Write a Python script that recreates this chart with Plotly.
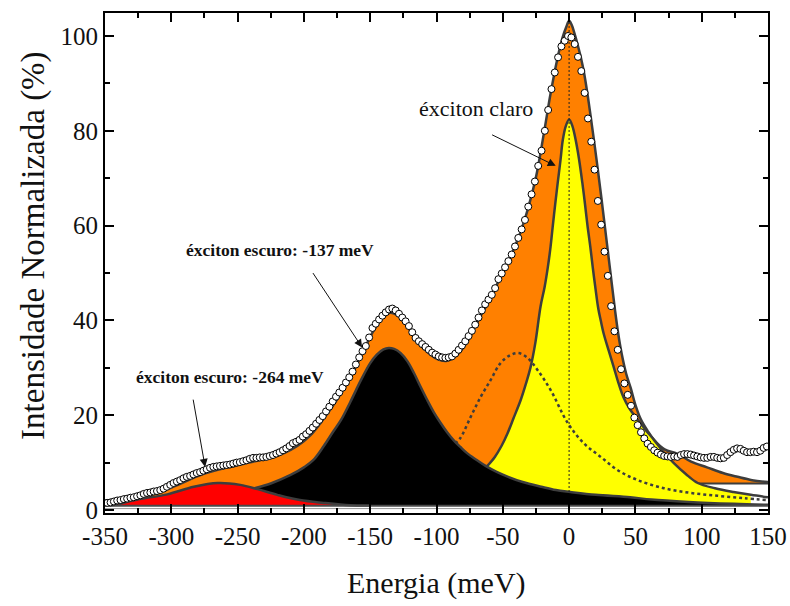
import plotly.graph_objects as go

# ---------------- data ----------------
DATA_E = [
    -348.3, -345.8, -343.3, -340.8, -338.3, -335.8, -333.3, -330.8, -328.3, -325.8,
    -323.3, -320.8, -318.3, -315.8, -313.3, -310.8, -308.3, -305.8, -303.3, -300.8,
    -298.3, -295.8, -293.3, -290.8, -288.3, -285.8, -283.3, -280.8, -278.3, -275.8,
    -273.3, -270.8, -268.3, -265.8, -263.3, -260.8, -258.3, -255.8, -253.3, -250.8,
    -248.3, -245.8, -243.3, -240.8, -238.3, -235.8, -233.3, -230.8, -228.3, -225.8,
    -223.3, -220.8, -218.3, -215.8, -213.3, -210.8, -208.3, -205.8, -203.3, -200.8,
    -198.3, -195.8, -193.3, -190.8, -188.3, -185.8, -183.3, -180.8, -178.3, -175.8,
    -173.3, -170.8, -168.3, -165.8, -163.3, -160.8, -158.3, -155.8, -153.3, -150.8,
    -148.3, -145.8, -143.3, -140.8, -138.3, -135.8, -133.3, -130.8, -128.3, -125.8,
    -123.3, -120.8, -118.3, -115.8, -113.3, -110.8, -108.3, -105.8, -103.3, -100.8,
    -98.3, -95.8, -93.3, -90.8, -88.3, -85.8, -83.3, -80.8, -78.3, -75.8,
    -73.3, -70.8, -68.3, -65.8, -63.3, -60.8, -58.3, -55.8, -53.3, -50.8,
    -48.3, -45.8, -43.3, -40.8, -38.3, -35.8, -33.3, -30.8, -28.3, -25.8,
    -23.3, -20.8, -18.3, -15.8, -13.3, -10.8, -8.3, -5.8, -3.3, -0.8,
    1.7, 4.2, 6.7, 9.2, 11.7, 14.2, 16.7, 19.2, 21.7, 24.2,
    26.7, 29.2, 31.7, 34.2, 36.7, 39.2, 41.7, 44.2, 46.7, 49.2,
    51.7, 54.2, 56.7, 59.2, 61.7, 64.2, 66.7, 69.2, 71.7, 74.2,
    76.7, 79.2, 81.7, 84.2, 86.7, 89.2, 91.7, 94.2, 96.7, 99.2,
    101.7, 104.2, 106.7, 109.2, 111.7, 114.2, 116.7, 119.2, 121.7, 124.2,
    126.7, 129.2, 131.7, 134.2, 136.7, 139.2, 141.7, 144.2, 146.7, 149.2,
]
DATA_I = [
    1.5, 1.6, 1.8, 2.0, 2.1, 2.3, 2.4, 2.6, 2.7, 2.9,
    3.1, 3.4, 3.6, 3.7, 3.9, 4.0, 4.2, 4.5, 4.9, 5.3,
    5.7, 6.0, 6.3, 6.7, 7.0, 7.2, 7.5, 7.8, 8.0, 8.3,
    8.6, 8.9, 9.1, 9.2, 9.3, 9.4, 9.5, 9.6, 9.8, 10.0,
    10.1, 10.3, 10.5, 10.8, 11.0, 11.0, 11.1, 11.1, 11.2, 11.4,
    11.6, 11.9, 12.2, 12.6, 13.0, 13.5, 14.1, 14.4, 14.8, 15.5,
    16.0, 16.7, 17.4, 18.2, 19.0, 19.8, 20.8, 21.8, 22.9, 23.9,
    24.8, 25.8, 26.9, 28.0, 29.2, 30.7, 32.2, 33.5, 34.6, 36.4,
    38.4, 39.3, 40.2, 41.0, 41.7, 42.3, 42.5, 42.1, 41.4, 40.6,
    39.8, 38.8, 37.5, 36.3, 35.6, 35.0, 34.4, 33.8, 33.2, 32.8,
    32.4, 32.2, 32.1, 32.2, 32.4, 33.0, 33.8, 34.7, 35.6, 36.7,
    37.8, 39.1, 40.6, 42.1, 43.4, 44.4, 45.4, 46.8, 48.7, 49.9,
    51.2, 52.5, 53.9, 55.6, 57.4, 59.2, 61.2, 64.0, 66.6, 69.3,
    72.6, 75.8, 80.0, 84.4, 88.8, 92.3, 95.5, 97.8, 99.0, 100.0,
    99.7, 98.3, 95.6, 92.6, 88.0, 82.6, 77.7, 71.8, 65.2, 60.2,
    54.5, 49.4, 43.0, 37.7, 33.8, 29.7, 26.7, 24.3, 22.0, 19.5,
    17.9, 16.4, 15.1, 14.0, 13.3, 12.6, 12.1, 11.7, 11.4, 11.3,
    11.2, 11.3, 11.2, 11.6, 11.8, 11.8, 11.7, 11.5, 11.3, 11.1,
    11.0, 11.0, 11.2, 11.2, 11.0, 10.9, 11.0, 11.6, 12.2, 12.7,
    13.0, 12.9, 12.5, 12.2, 12.2, 12.3, 12.2, 12.5, 13.1, 13.4,
]

# total fit (orange envelope)
FIT_E = [-350, -335, -320, -305, -295, -285, -275, -265, -255, -245, -235, -225, -215,
         -205, -195, -185, -175, -165, -155, -148, -141, -135, -129, -122, -115, -107,
         -99, -92, -85, -77, -69, -61, -53, -45, -38, -31, -25, -19, -14, -9, -5, -2,
         0, 2, 4, 6.3, 9, 11.3, 14, 16.3, 19, 21.8, 24.5, 27.1, 31, 34.7, 37, 39.7,
         43, 46.5, 50, 54, 59, 64, 72, 82, 92, 104, 116, 127, 138, 150]
FIT_I = [2.0, 2.5, 3.1, 4.2, 5.3, 6.6, 7.7, 8.5, 9.1, 9.8, 10.4, 11.0, 12.0,
         13.5, 15.8, 19.3, 23.3, 28.0, 33.6, 37.6, 40.4, 41.6, 41.0, 38.8, 35.6, 33.4,
         31.8, 31.5, 32.6, 35.4, 39.8, 43.8, 48.4, 53.0, 57.6, 63.6, 70.2, 79.5, 87.8, 95.0, 99.6, 102.0,
         103.2, 102.3, 100.6, 98.3, 95.3, 92.2, 87.5, 83.0, 77.5, 71.5, 65.5, 59.5, 50.5, 42.0, 37.3, 32.9,
         28.8, 25.7, 22.2, 19.2, 16.8, 14.8, 12.8, 11.8, 10.2, 9.0, 7.8, 7.0, 6.3, 5.9]

# dark exciton at -137 meV (black)
D137_E = [-350, -320, -290, -260, -240, -225, -210, -200, -193, -185, -178, -172, -165,
          -157, -150, -145, -140, -136, -132, -127, -122, -117, -112, -107, -102, -97,
          -92, -87, -82, -77, -70, -63, -55, -46, -35, -21, -10, 1, 20, 46, 62, 90, 124, 150]
D137_I = [1.0, 1.3, 1.8, 3.0, 4.4, 5.6, 7.4, 9.0, 10.5, 13.5, 16.5, 19.0, 22.8,
          27.4, 31.0, 32.8, 33.9, 34.2, 34.0, 33.1, 31.4, 28.9, 26.0, 23.2, 20.6, 18.4,
          16.4, 14.7, 13.3, 12.0, 10.6, 9.3, 8.1, 7.0, 5.9, 4.9, 4.2, 3.8, 3.2, 2.7, 2.2, 1.7, 1.3, 1.1]

# dark exciton at -264 meV (red)
D264_E = [-340, -324, -303, -283, -265, -248, -235, -220, -203, -185, -165, -150]
D264_I = [1.2, 2.3, 3.3, 4.9, 5.7, 5.3, 4.4, 3.2, 2.1, 1.5, 1.0, 0.95]

# bright exciton (yellow)
BRIGHT_E = [-62, -56, -51, -46.4, -42, -36.5, -32.5, -29, -25.5, -21.5, -18.5, -16, -14,
            -12.4, -10.5, -8.6, -6.5, -4.8, -2.5, 0, 2.5, 5, 7.5, 10, 12, 14, 16, 17.8,
            20, 22, 24, 26, 30, 33.6, 37, 41, 46, 52, 58, 64, 71, 79, 88, 97, 110, 124, 137, 150]
BRIGHT_I = [9.2, 11.2, 13.5, 16.2, 19.3, 23.2, 26.7, 30.2, 35.2, 43.0, 47.0, 51.3, 55.5,
            59.7, 64.5, 69.0, 73.8, 78.0, 81.0, 82.4, 81.0, 78.0, 74.0, 69.0, 64.5, 59.7, 55.5, 51.3,
            46.5, 42.5, 39.8, 37.3, 33.5, 30.2, 27.0, 23.8, 21.2, 19.0, 16.8, 14.8, 12.3, 9.9, 7.6, 5.7, 4.6, 3.8, 3.2, 2.7]

# dotted component
TRION_E = [-86, -82, -74.3, -66.8, -59.2, -51.7, -44.2, -38, -31.4, -23.7, -13.9, -1.1,
           11, 23.9, 36.7, 51.8, 71.5, 91.8, 112, 132, 150]
TRION_I = [14.0, 15.2, 19.6, 23.8, 27.4, 31.0, 32.7, 33.1, 32.1, 29.5, 25.3, 18.4,
           14.1, 11.2, 8.4, 6.3, 4.6, 3.6, 3.0, 2.5, 2.1]

# picture details
BASE = 0.9              # level the filled peaks rest on
ORANGE_CUT_E = 97       # orange envelope is cut off here on the right
ORANGE_CUT_I = 5.6
YELLOW_FILL_END = 137
PEAK_LINE_E = 0
PEAK_LINE_I = [3.8, 103.2]
BASE2_I = 0.3
BASE2_END = 125

X_TICKS = [-350, -300, -250, -200, -150, -100, -50, 0, 50, 100, 150]
X_TICK_TEXT = ["-350", "-300", "-250", "-200", "-150", "-100", "-50", "0", "50", "100", "150"]
Y_TICKS = [0, 20, 40, 60, 80, 100]
Y_TICK_TEXT = ["0", "20", "40", "60", "80", "100"]

X_TITLE = "Energia (meV)"
Y_TITLE = "Intensidade Normalizada (%)"
LABEL_BRIGHT = "éxciton claro"
LABEL_137 = "<b>éxciton escuro: -137 meV</b>"
LABEL_264 = "<b>éxciton escuro: -264 meV</b>"

# ---------------- figure ----------------
FONT = "Liberation Serif"
EDGE = "#3d3d3d"
fig = go.Figure()


def base_trace(x0, x1, ys=None, xs=None):
    xs = xs if xs is not None else [x0, x1]
    ys = ys if ys is not None else [BASE, BASE]
    return go.Scatter(x=xs, y=ys, mode="lines", line=dict(width=0),
                      hoverinfo="skip", showlegend=False)


# orange envelope
fig.add_trace(base_trace(None, None,
                         xs=[FIT_E[0], ORANGE_CUT_E, ORANGE_CUT_E, FIT_E[-1]],
                         ys=[BASE, BASE, ORANGE_CUT_I, ORANGE_CUT_I]))
fig.add_trace(go.Scatter(x=FIT_E, y=FIT_I, mode="lines", fill="tonexty",
                         fillcolor="#FF8000",
                         line=dict(color=EDGE, width=2.5, shape="spline", smoothing=1),
                         showlegend=False))
fig.add_trace(go.Scatter(x=[ORANGE_CUT_E, FIT_E[-1]], y=[ORANGE_CUT_I, ORANGE_CUT_I],
                         mode="lines", line=dict(color=EDGE, width=2), showlegend=False))

# yellow bright exciton
yf_e = [e for e in BRIGHT_E if e <= YELLOW_FILL_END]
yf_i = BRIGHT_I[:len(yf_e)]
fig.add_trace(base_trace(yf_e[0], yf_e[-1]))
fig.add_trace(go.Scatter(x=yf_e, y=yf_i, mode="lines", fill="tonexty",
                         fillcolor="#FFFF00",
                         line=dict(width=0, shape="spline", smoothing=1),
                         showlegend=False))
fig.add_trace(go.Scatter(x=BRIGHT_E, y=BRIGHT_I, mode="lines",
                         line=dict(color=EDGE, width=2.5, shape="spline", smoothing=1),
                         showlegend=False))

# dotted component
fig.add_trace(go.Scatter(x=TRION_E, y=TRION_I, mode="lines",
                         line=dict(color=EDGE, width=2.5, dash="dot", shape="spline", smoothing=1),
                         showlegend=False))

# black dark exciton
fig.add_trace(base_trace(D137_E[0], D137_E[-1]))
fig.add_trace(go.Scatter(x=D137_E, y=D137_I, mode="lines", fill="tonexty",
                         fillcolor="#000000",
                         line=dict(color=EDGE, width=2.5, shape="spline", smoothing=1),
                         showlegend=False))

# red dark exciton
fig.add_trace(base_trace(D264_E[0], D264_E[-1]))
fig.add_trace(go.Scatter(x=D264_E, y=D264_I, mode="lines", fill="tonexty",
                         fillcolor="#FF0000",
                         line=dict(color=EDGE, width=2.5, shape="spline", smoothing=1),
                         showlegend=False))

# baselines
fig.add_trace(go.Scatter(x=[X_TICKS[0], X_TICKS[-1]], y=[BASE, BASE], mode="lines",
                         line=dict(color="#4a4a4a", width=2), showlegend=False))
fig.add_trace(go.Scatter(x=[X_TICKS[0], BASE2_END], y=[BASE2_I, BASE2_I], mode="lines",
                         line=dict(color="#9a9a9a", width=1), showlegend=False))

# vertical dotted line at the bright exciton
fig.add_trace(go.Scatter(x=[PEAK_LINE_E, PEAK_LINE_E], y=PEAK_LINE_I, mode="lines",
                         line=dict(color="#222222", width=1, dash="2px,2px"), showlegend=False))

# measured data
fig.add_trace(go.Scatter(x=DATA_E, y=DATA_I, mode="markers",
                         marker=dict(size=7, color="white", line=dict(color="black", width=1)),
                         showlegend=False))

# ---------------- annotations ----------------
ann = []
ann.append(dict(x=-70.5, y=84.8, xref="x", yref="y", text=LABEL_BRIGHT, showarrow=False,
                font=dict(family=FONT, size=22, color="#111")))
ann.append(dict(x=-218.2, y=54.9, xref="x", yref="y", text=LABEL_137, showarrow=False,
                font=dict(family=FONT, size=17.5, color="#111")))
ann.append(dict(x=-255.6, y=28.1, xref="x", yref="y", text=LABEL_264, showarrow=False,
                font=dict(family=FONT, size=17.5, color="#111")))
ARROWS = [((-10.1, 72.6), (-59.2, 79.3)),
          ((-156.1, 34.3), (-193.9, 50.3)),
          ((-274.5, 9.1), (-283.7, 23.6))]
for (tx, ty), (sx, sy) in ARROWS:
    ann.append(dict(x=tx, y=ty, ax=sx, ay=sy, xref="x", yref="y", axref="x", ayref="y",
                    text="", showarrow=True, arrowhead=2, arrowsize=1.6, arrowwidth=1,
                    arrowcolor="#111"))
ann.append(dict(x=0.5, y=-0.14, xref="paper", yref="paper", text=X_TITLE, showarrow=False,
                xanchor="center", yanchor="middle",
                font=dict(family=FONT, size=30, color="#111")))
ann.append(dict(x=-0.108, y=0.535, xref="paper", yref="paper", text=Y_TITLE, showarrow=False,
                textangle=-90, xanchor="center", yanchor="middle",
                font=dict(family=FONT, size=33, color="#111")))
fig.update_layout(annotations=ann)

axis_common = dict(showline=True, linewidth=2, linecolor="black", mirror="ticks",
                   ticks="inside", ticklen=9, tickwidth=2, tickcolor="black",
                   showgrid=False, zeroline=False, automargin=False,
                   tickfont=dict(family=FONT, size=25, color="#111"))
fig.update_xaxes(range=[-350, 150], tickvals=X_TICKS, ticktext=X_TICK_TEXT,
                 minor=dict(dtick=25, ticklen=5, tickwidth=2, ticks="inside", tickcolor="black"),
                 **axis_common)
fig.update_yaxes(range=[-0.63, 104.85], tickvals=Y_TICKS, ticktext=Y_TICK_TEXT,
                 minor=dict(dtick=10, ticklen=5, tickwidth=2, ticks="inside", tickcolor="black"),
                 **axis_common)

fig.update_layout(width=790, height=606, margin=dict(l=105, r=22, t=13, b=93, autoexpand=False),
                  plot_bgcolor="white", paper_bgcolor="white", showlegend=False)

fig.write_html("out.html")
